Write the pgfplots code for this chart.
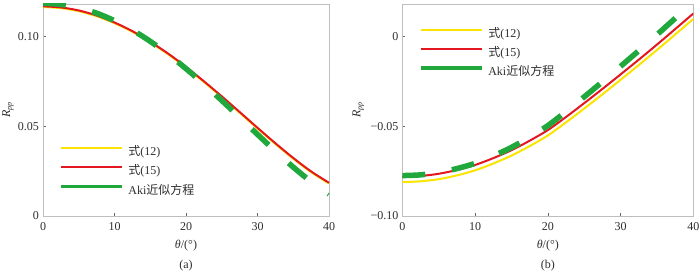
\documentclass[border=0pt]{standalone}
\usepackage{fontspec}
\setmainfont{Liberation Serif}
\newfontfamily\cjk{Noto Sans CJK SC}
\usepackage{pgfplots}
\pgfplotsset{compat=1.18}
\definecolor{cyel}{RGB}{250,228,0}
\definecolor{cred}{RGB}{228,22,30}
\definecolor{cgrn}{RGB}{32,168,60}
\definecolor{axgray}{RGB}{190,190,190}
\definecolor{txt}{RGB}{45,45,45}

\pgfplotsset{
  myaxis/.style={
    scale only axis, height=212pt,
    xmin=0, xmax=40, xtick={0,10,20,30,40},
    xticklabels={0,10,20,30,40},
    tick pos=left, tick align=inside, major tick length=3pt,
    axis line style={axgray, line width=0.8pt},
    every tick/.style={black!60, line width=0.6pt},
    tick label style={font=\fontsize{12}{14}\selectfont, text=txt},
    xticklabel style={yshift=-2.5pt},
    yticklabel style={xshift=-0.5pt},
    legend cell align=left,
    legend style={draw=none, fill=none, inner sep=0pt, row sep=3.6pt, column sep=3pt,
      font=\fontsize{12}{14}\selectfont, text=txt, anchor=north west},
    legend image code/.code={\draw[##1] (0pt,3.5pt) -- (61pt,3.5pt);},
  },
  yel/.style={cyel, line width=2pt, smooth},
  red/.style={cred, line width=2pt, smooth},
  aki/.style={cgrn, line width=5.5pt, dash pattern=on 23pt off 27pt, smooth,
    legend image code/.code={\draw[cgrn, solid, line width=3.5pt] (0pt,3.5pt) -- (61pt,3.5pt);}},
}

\begin{document}
\begin{tikzpicture}[font=\fontsize{12}{14}\selectfont]
\path[use as bounding box] (0pt,0pt) rectangle (700pt,271pt);

\begin{axis}[myaxis, name=A, at={(43pt,55pt)}, anchor=south west, width=286pt,
  ymin=0, ymax=0.118, ytick={0,0.05,0.10}, yticklabels={0,0.05,0.10},
  legend style={at={(rel axis cs:0.055,0.342)}}]
\addplot[yel] coordinates {(0,0.1163) (2.5,0.1157) (5,0.1140) (7.5,0.1112) (10,0.1073) (12.5,0.1025) (15,0.0966) (17.5,0.0900) (20,0.0826) (22.5,0.0746) (25,0.0662) (27.5,0.0575) (30,0.0487) (32.5,0.0401) (35,0.0319) (37.5,0.0244) (40,0.0181)};
\addlegendentry{{\cjk 式}(12)}
\addplot[red] coordinates {(0,0.1167) (2.5,0.1161) (5,0.1144) (7.5,0.1116) (10,0.1077) (12.5,0.1029) (15,0.0970) (17.5,0.0904) (20,0.0830) (22.5,0.0750) (25,0.0666) (27.5,0.0579) (30,0.0491) (32.5,0.0405) (35,0.0323) (37.5,0.0248) (40,0.0185)};
\addlegendentry{{\cjk 式}(15)}
\addplot[aki] coordinates {(0,0.1184) (2.5,0.1178) (5,0.1159) (7.5,0.1129) (10,0.1087) (12.5,0.1035) (15,0.0972) (17.5,0.0900) (20,0.0820) (22.5,0.0734) (25,0.0643) (27.5,0.0549) (30,0.0454) (32.5,0.0361) (35,0.0272) (37.5,0.0191) (40,0.0122)};
\addlegendentry{Aki{\cjk 近似方程}}
\end{axis}
\node[rotate=90, text=txt] at ([xshift=-35pt]A.west) {\textit{R}\textsubscript{\textit{pp}}};
\node[text=txt] at ([yshift=-29.5pt]A.south) {\textit{θ}/(°)};
\node[text=txt] at ([yshift=-49.5pt]A.south) {(a)};

\begin{axis}[myaxis, name=B, at={(402.3pt,55pt)}, anchor=south west, width=291pt,
  ymin=-0.10, ymax=0.018, ytick={-0.10,-0.05,0}, yticklabels={−0.10,−0.05,0},
  legend style={at={(rel axis cs:0.056,0.90)}}]
\addplot[yel] coordinates {(0,-0.0811) (2.5,-0.0807) (5,-0.0795) (7.5,-0.0774) (10,-0.0746) (12.5,-0.0708) (15,-0.0664) (17.5,-0.0611) (20,-0.0552) (22.5,-0.0479) (25,-0.0402) (27.5,-0.0323) (30,-0.0242) (32.5,-0.0160) (35,-0.0076) (37.5,0.0010) (40,0.0097)};
\addlegendentry{{\cjk 式}(12)}
\addplot[red] coordinates {(0,-0.0781) (2.5,-0.0777) (5,-0.0765) (7.5,-0.0744) (10,-0.0716) (12.5,-0.0678) (15,-0.0634) (17.5,-0.0581) (20,-0.0522) (22.5,-0.0449) (25,-0.0372) (27.5,-0.0293) (30,-0.0212) (32.5,-0.0130) (35,-0.0046) (37.5,0.0040) (40,0.0127)};
\addlegendentry{{\cjk 式}(15)}
\addplot[aki] coordinates {(0,-0.0775) (2.5,-0.0771) (5,-0.0758) (7.5,-0.0736) (10,-0.0707) (12.5,-0.0666) (15,-0.0618) (17.5,-0.0561) (20,-0.0497) (22.5,-0.0419) (25,-0.0337) (27.5,-0.0253) (30,-0.0167) (32.5,-0.0080) (35,0.0009) (37.5,0.0100) (40,0.0192)};
\addlegendentry{Aki{\cjk 近似方程}}
\end{axis}
\node[rotate=90, text=txt] at ([xshift=-44pt]B.west) {\textit{R}\textsubscript{\textit{pp}}};
\node[text=txt] at ([yshift=-29.5pt]B.south) {\textit{θ}/(°)};
\node[text=txt] at ([yshift=-49.5pt]B.south) {(b)};
\end{tikzpicture}
\end{document}
